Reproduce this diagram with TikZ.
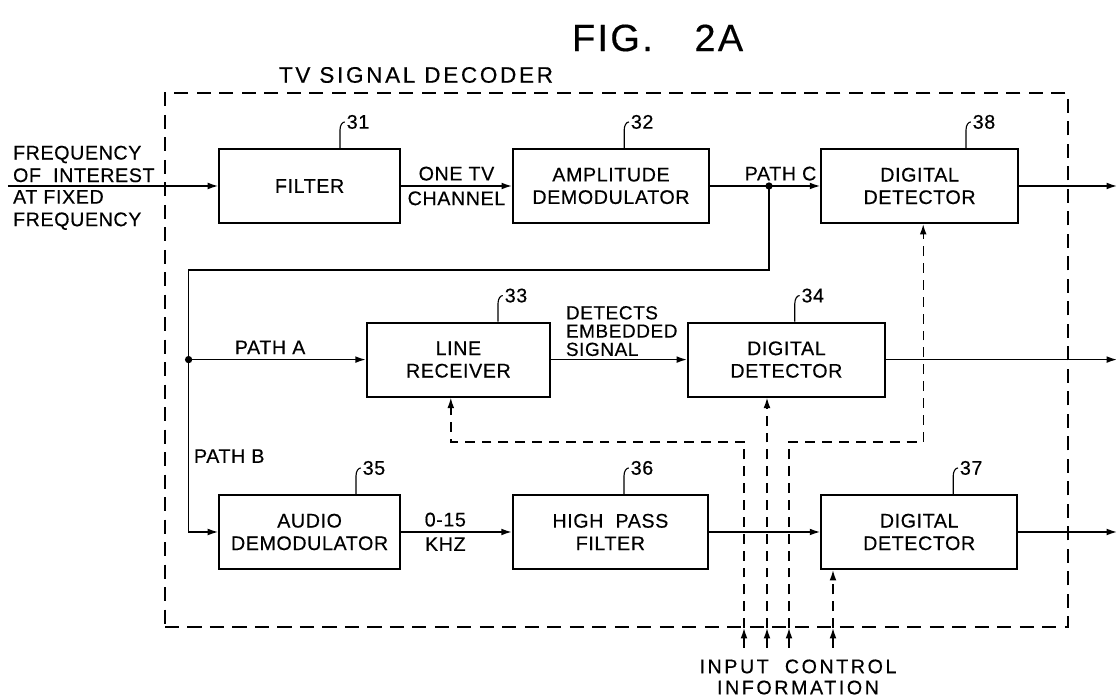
\documentclass[tikz,border=0pt]{standalone}
\usepackage{fontspec}
\setmainfont{Liberation Sans}[LetterSpace=3,FakeBold=0.4]
\usetikzlibrary{arrows.meta,positioning,calc}

% leader line with hook and reference numeral above a block
\newcommand{\refmark}[3]{%
  \draw[line width=0.8pt] ([xshift=#2cm]#1.north) -- ++(0,0.45)
    .. controls +(0,0.12) and +(-0.06,0) .. ++(0.12,0.2)
    node[anchor=west, inner sep=1pt] (num#3) {#3};}

\begin{document}
\begin{tikzpicture}[
  font=\fontsize{14}{16}\selectfont,
  block/.style={draw, line width=1.5pt, align=center, minimum height=1.85cm, inner sep=2pt},
  sig/.style={-{Latex[length=2.6mm,width=1.7mm]}, line width=1pt},
  ctrl/.style={sig, dash pattern=on 7pt off 5pt},
  frame/.style={draw, line width=1.4pt, dash pattern=on 10pt off 6pt},
  lbl/.style={inner sep=2pt, align=left}
]
\useasboundingbox (0,0) rectangle (28,17.5);

\node[font=\fontsize{27}{27}\selectfont\addfontfeature{LetterSpace=6}] (fig) at (16.44,16.55) {FIG.\hspace{1.1em}2A};
\node[font=\fontsize{16}{18}\selectfont\addfontfeature{LetterSpace=12}] (dechead) at (10.4,15.625) {TV SIGNAL DECODER};
\node[frame, minimum width=22.575cm, minimum height=13.35cm] (decoder) at (15.4125,8.5) {};

% blocks
\node[block, minimum width=4.52cm] (filt) at (7.74,12.85) {FILTER};
\node[block, minimum width=4.9cm] (ampl) at (15.275,12.85) {AMPLITUDE\\DEMODULATOR};
\node[block, minimum width=4.92cm] (det38) at (22.99,12.85) {DIGITAL\\DETECTOR};
\node[block, minimum width=4.58cm] (recv) at (11.46,8.51) {LINE\\RECEIVER};
\node[block, minimum width=4.92cm] (det34) at (19.66,8.51) {DIGITAL\\DETECTOR};
\node[block, minimum width=4.52cm] (audio) at (7.74,4.2) {AUDIO\\DEMODULATOR};
\node[block, minimum width=4.88cm] (hpf) at (15.26,4.2) {HIGH\ \ PASS\\FILTER};
\node[block, minimum width=4.9cm] (det37) at (22.98,4.2) {DIGITAL\\DETECTOR};

\refmark{filt}{0.76}{31}
\refmark{ampl}{0.33}{32}
\refmark{det38}{1.16}{38}
\refmark{recv}{0.99}{33}
\refmark{det34}{0.21}{34}
\refmark{audio}{1.16}{35}
\refmark{hpf}{0.34}{36}
\refmark{det37}{0.85}{37}

% signal paths
\coordinate (src) at (0.2,12.85);
\coordinate (outx) at (27.925,0);
\coordinate (jc) at (19.225,12.85);
\coordinate (ja) at (4.715,8.51);
\node[lbl, anchor=west] (freqa) at (0.25,13.4) {FREQUENCY\\OF\ \ INTEREST};
\node[lbl, anchor=west] (freqb) at (0.25,12.25) {AT FIXED\\FREQUENCY};
\draw[sig] (src) -- (filt);
\draw[sig] (filt) -- node[above] (onetv) {ONE TV} node[below] (chan) {CHANNEL} (ampl);
\draw[sig] (ampl) -- node[above,pos=0.64] (pathc) {PATH C} (det38);
\draw[line width=1pt] (jc) -- ++(0,-2.1) -| (ja);
\draw[sig] (ja) -- node[above,pos=0.46] (patha) {PATH A} (recv);
\draw[sig] (ja) |- node[right,pos=0.28] (pathb) {PATH B} (audio);
\fill (jc) circle (2.6pt) (ja) circle (2.6pt);
\draw[sig] (recv) -- node[above,pos=0.52,lbl,font=\fontsize{13.5}{13}\selectfont] (embed) {DETECTS\\EMBEDDED\\SIGNAL} (det34);
\draw[sig] (audio) -- node[above,pos=0.4] (band) {0-15} node[below,pos=0.4] (khz) {KHZ} (hpf);
\draw[sig] (hpf) -- (det37);
\foreach \b in {det38,det34,det37}
  \draw[sig] (\b.east) -- (\b.east -| outx);

% control inputs
\foreach \n/\x in {1/18.6,2/19.175,3/19.725,4/20.825}{
  \coordinate (in\n) at (\x,1.3);
  \coordinate (b\n) at (\x,1.8);
  \draw[sig] (in\n) -- (b\n);
}
\draw[ctrl] (b1) -- ++(0,4.65) -| ([xshift=-0.19cm]recv.south);
\draw[ctrl] (b2) -- (b2 |- det34.south);
\draw[ctrl] (b3) -- ++(0,4.65) -| ([xshift=0.09cm]det38.south);
\draw[ctrl] (b4) -- (b4 |- det37.south);
\node[align=center, font=\fontsize{14}{15}\selectfont\addfontfeature{LetterSpace=13}] (ctrlinfo) at (19.95,0.575) {INPUT\ \ CONTROL\\INFORMATION};
\end{tikzpicture}
\end{document}
